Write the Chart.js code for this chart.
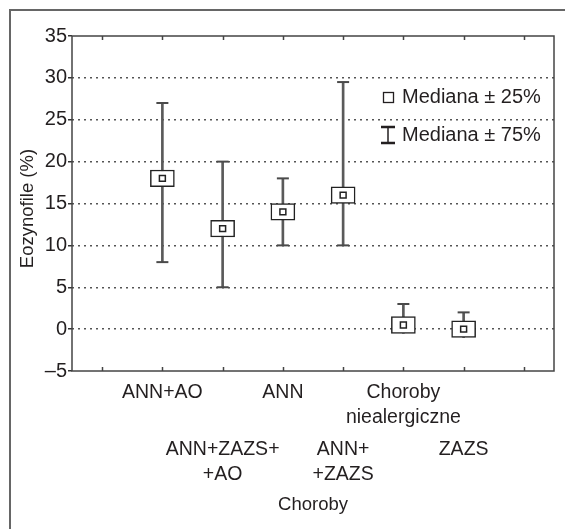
<!DOCTYPE html>
<html lang="pl">
<head>
<meta charset="UTF-8" />
<title>Eozynofile</title>
<script src="https://cdn.jsdelivr.net/npm/chart.js@4.4.0/dist/chart.umd.min.js"></script>
<style>
  body { margin: 0; background: #fff; }
</style>
</head>
<body>
<canvas id="myChart" width="565" height="529"></canvas>
<script>
// slots 0 and 7 are empty on purpose (spacing at both ends of the axis)
const categories = ['', 'ANN+AO', 'ANN+ZAZS+\n+AO', 'ANN', 'ANN+\n+ZAZS', 'Choroby\nniealergiczne', 'ZAZS', ''];
const whiskerLow  = [null, 8, 5, 10, 10, -0.5, -1, null];
const whiskerHigh = [null, 27, 20, 18, 29.5, 3, 2, null];
const boxLow      = [null, 17, 11, 13, 15, -0.5, -1, null];
const boxHigh     = [null, 19, 13, 15, 17, 1.5, 1, null];
const median      = [null, 18, 12, 14, 16, 0.5, 0, null];
const yTitle = 'Eozynofile (%)';
const xTitle = 'Choroby';
const legendLabels = ['Mediana \u00b1 25%', 'Mediana \u00b1 75%'];

const FONT = '"Liberation Sans", Arial, sans-serif';
const INK = '#231f20';

function range(lo, hi) {
  return lo.map((v, i) => (v === null ? null : [v, hi[i]]));
}
// lower cap only where the whisker reaches below the box
const capLow = whiskerLow.map((v, i) => (v !== null && v < boxLow[i] ? v : null));

const decor = {
  id: 'decor',
  beforeDraw(chart) {
    const ctx = chart.ctx;
    ctx.save();
    ctx.strokeStyle = '#666';
    ctx.lineWidth = 2;
    ctx.beginPath();
    ctx.moveTo(10, 529);
    ctx.lineTo(10, 10);
    ctx.lineTo(565, 10);
    ctx.stroke();
    ctx.restore();
  },
  afterDraw(chart) {
    const { ctx, chartArea: a } = chart;
    const x = chart.scales.x;
    ctx.save();

    // plot frame
    ctx.strokeStyle = '#444';
    ctx.lineWidth = 1.5;
    ctx.strokeRect(a.left, a.top, a.right - a.left, a.bottom - a.top);

    // inner tick marks on top and bottom
    ctx.lineWidth = 1.5;
    categories.forEach((c, i) => {
      const px = Math.round(x.getPixelForValue(i)) + 0.5;
      ctx.beginPath();
      ctx.moveTo(px, a.top);
      ctx.lineTo(px, a.top + 4);
      ctx.moveTo(px, a.bottom);
      ctx.lineTo(px, a.bottom - 4);
      ctx.stroke();
    });

    // category labels, staggered over two rows
    ctx.fillStyle = INK;
    ctx.textAlign = 'center';
    ctx.textBaseline = 'middle';
    ctx.font = '19.5px ' + FONT;
    categories.forEach((c, i) => {
      if (!c) return;
      const px = x.getPixelForValue(i);
      const y0 = a.bottom + (i % 2 === 1 ? 22 : 79);
      c.split('\n').forEach((line, k) => ctx.fillText(line, px, y0 + k * 25));
    });

    // axis titles
    ctx.font = '18.5px ' + FONT;
    ctx.fillText(xTitle, (a.left + a.right) / 2, a.bottom + 134);
    ctx.save();
    ctx.translate(28, (a.top + a.bottom) / 2 + 5);
    ctx.rotate(-Math.PI / 2);
    ctx.fillText(yTitle, 0, 0);
    ctx.restore();

    // legend
    const lx = a.right - 152;
    const ly = a.top + 61;
    ctx.textAlign = 'left';
    ctx.font = '20px ' + FONT;
    ctx.fillText(legendLabels[0], lx, ly);
    ctx.fillText(legendLabels[1], lx, ly + 38);
    ctx.strokeStyle = INK;
    ctx.lineWidth = 1.3;
    ctx.strokeRect(lx - 18.5, ly - 4.5, 10, 10);
    ctx.lineWidth = 2.5;
    ctx.beginPath();
    ctx.moveTo(lx - 21, ly + 30); ctx.lineTo(lx - 7, ly + 30);
    ctx.moveTo(lx - 21, ly + 46); ctx.lineTo(lx - 7, ly + 46);
    ctx.stroke();
    ctx.lineWidth = 1.5;
    ctx.beginPath();
    ctx.moveTo(lx - 14, ly + 30); ctx.lineTo(lx - 14, ly + 46);
    ctx.stroke();

    ctx.restore();
  }
};

new Chart(document.getElementById('myChart'), {
  type: 'bar',
  data: {
    labels: categories,
    datasets: [
      {
        label: 'whisker',
        data: range(whiskerLow, whiskerHigh),
        backgroundColor: '#5a5a5a',
        borderWidth: 0,
        barThickness: 2,
        grouped: false,
        order: 4
      },
      {
        type: 'line',
        label: 'cap high',
        data: whiskerHigh,
        showLine: false,
        pointStyle: 'line',
        pointRadius: 6,
        pointBorderWidth: 2,
        pointBorderColor: '#4a4a4a',
        order: 3
      },
      {
        type: 'line',
        label: 'cap low',
        data: capLow,
        showLine: false,
        pointStyle: 'line',
        pointRadius: 6,
        pointBorderWidth: 2,
        pointBorderColor: '#4a4a4a',
        order: 3
      },
      {
        label: 'box',
        data: range(boxLow, boxHigh),
        backgroundColor: '#fff',
        borderColor: '#222',
        borderWidth: 1.5,
        borderSkipped: false,
        barThickness: 24,
        grouped: false,
        order: 2
      },
      {
        type: 'line',
        label: 'median',
        data: median,
        showLine: false,
        pointStyle: 'rect',
        pointRadius: 4.2,
        pointBorderWidth: 1.5,
        pointBorderColor: '#222',
        pointBackgroundColor: '#fff',
        order: 1
      }
    ]
  },
  options: {
    responsive: false,
    animation: false,
    layout: { padding: { left: 0, right: 11, top: 36, bottom: 0 } },
    plugins: { legend: { display: false }, tooltip: { enabled: false } },
    scales: {
      x: {
        type: 'category',
        offset: true,
        grid: { display: false },
        border: { display: false },
        ticks: { display: false },
        afterFit(s) { s.height = 158; }
      },
      y: {
        min: -5,
        max: 35,
        ticks: {
          stepSize: 5,
          padding: 1,
          color: INK,
          font: { family: FONT, size: 20 },
          callback: v => (v < 0 ? '\u2013' + Math.abs(v) : String(v))
        },
        grid: {
          color: c => (c.tick && (c.tick.value === 35 || c.tick.value === -5) ? 'rgba(0,0,0,0)' : '#555'),
          lineWidth: 1.5,
          tickLength: 4,
          tickColor: '#333',
          tickWidth: 1.5,
          tickBorderDash: []
        },
        border: { display: false, dash: [2, 4] },
        afterFit(s) { s.width = 72; }
      }
    }
  },
  plugins: [decor]
});
</script>
</body>
</html>
